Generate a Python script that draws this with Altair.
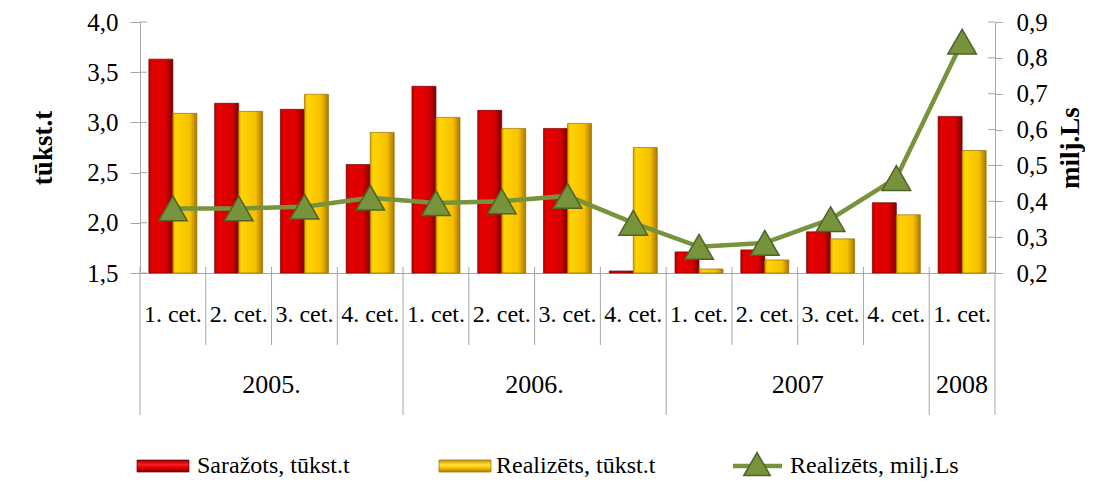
import altair as alt
import pandas as pd

# ---------------- data ----------------
YEARS = ["2005."] * 4 + ["2006."] * 4 + ["2007"] * 4 + ["2008"]
QUARTERS = ["1. cet.", "2. cet.", "3. cet.", "4. cet."] * 3 + ["1. cet."]
SARAZOTS = [3.63, 3.19, 3.13, 2.58, 3.36, 3.12, 2.94, 1.52, 1.71, 1.73, 1.91, 2.20, 3.06]
REALIZETS_T = [3.09, 3.11, 3.28, 2.90, 3.05, 2.94, 2.99, 2.75, 1.54, 1.63, 1.84, 2.08, 2.72]
REALIZETS_LS = [0.38, 0.38, 0.385, 0.41, 0.395, 0.40, 0.415, 0.34, 0.273, 0.284, 0.35, 0.465, 0.845]
SERIES = ["Saražots, tūkst.t", "Realizēts, tūkst.t", "Realizēts, milj.Ls"]
YEAR_LABELS = ["2005.", "2006.", "2007", "2008"]
LEFT_TICKS = [1.5, 2.0, 2.5, 3.0, 3.5, 4.0]
RIGHT_TICKS = [0.2, 0.3, 0.4, 0.5, 0.6, 0.7, 0.8, 0.9]
LEFT_TITLE = "tūkst.t"
RIGHT_TITLE = "milj.Ls"

CATS = [f"{i:02d} {y} {q}" for i, (y, q) in enumerate(zip(YEARS, QUARTERS))]

W, H = 855, 251
FONT = "'Times New Roman', 'Liberation Serif', serif"
GRAY = "#A6A6A6"

df = pd.DataFrame({"cat": CATS, "year": YEARS, "q": QUARTERS, "ls": REALIZETS_LS})
df_long = pd.DataFrame(
    {"cat": CATS * 2,
     "series": [SERIES[0]] * len(CATS) + [SERIES[1]] * len(CATS),
     "value": SARAZOTS + REALIZETS_T}
)
df_lt = pd.DataFrame({"value": LEFT_TICKS})
df_rt = pd.DataFrame({"ls": RIGHT_TICKS})

xscale = alt.Scale(domain=CATS, paddingInner=0, paddingOuter=0)
xaxis = alt.Axis(labels=False, ticks=False, title=None, domainColor=GRAY, grid=False)
X = alt.X("cat:N", scale=xscale, axis=xaxis)
X0 = alt.X("cat:N", scale=xscale, axis=xaxis, bandPosition=0)
X1 = alt.X("cat:N", scale=xscale, axis=xaxis, bandPosition=1)

fmt = "replace(format(datum.value, '.1f'), '.', ',')"


def hgrad(stops):
    return alt.Gradient(gradient="linear", x1=0, x2=1, y1=0, y2=0,
                        stops=[alt.GradientStop(color=c, offset=o) for o, c in stops])


def vgrad(stops):
    return alt.Gradient(gradient="linear", x1=0, x2=0, y1=0, y2=1,
                        stops=[alt.GradientStop(color=c, offset=o) for o, c in stops])


RED_G = hgrad([(0, "#B00000"), (0.12, "#E60000"), (0.7, "#DA0000"), (1, "#7E0000")])
YEL_G = hgrad([(0, "#D9A000"), (0.12, "#FFD400"), (0.7, "#F6C000"), (1, "#A87800")])

xoff = alt.XOffset("series:N", scale=alt.Scale(domain=SERIES[:2], paddingInner=0, paddingOuter=0.37))
left_axis = alt.Axis(values=LEFT_TICKS, labelExpr=fmt, title=LEFT_TITLE, orient="left",
                     grid=False, tickSize=10, tickColor=GRAY, domainColor=GRAY,
                     labelPadding=12, titleX=-97, titleY=H / 2, titleAngle=270,
                     titleBaseline="middle", titleAlign="center")
yL = alt.Y("value:Q", scale=alt.Scale(domain=[1.5, 4.0], zero=False), axis=left_axis)

base_bar = alt.Chart(df_long)
bar_red = base_bar.transform_filter(alt.datum.series == SERIES[0]).mark_bar(
    fill=RED_G, stroke="#6E0000", strokeWidth=0.7
).encode(x=X, xOffset=xoff, y=yL, y2=alt.datum(1.5))
bar_yel = base_bar.transform_filter(alt.datum.series == SERIES[1]).mark_bar(
    fill=YEL_G, stroke="#9A7000", strokeWidth=0.7
).encode(x=X, xOffset=xoff, y=yL, y2=alt.datum(1.5))
lt_in = alt.Chart(df_lt).mark_rule(color=GRAY, strokeWidth=1).encode(
    x=alt.value(0), x2=alt.value(7), y=yL)
bars = alt.layer(bar_red, bar_yel, lt_in)

right_axis = alt.Axis(values=RIGHT_TICKS, labelExpr=fmt, title=RIGHT_TITLE, orient="right",
                      grid=False, tickSize=7, tickColor=GRAY, domainColor=GRAY,
                      labelPadding=14, titleX=75, titleY=H / 2, titleAngle=270,
                      titleBaseline="middle", titleAlign="center")
yR = alt.Y("ls:Q", scale=alt.Scale(domain=[0.2, 0.9], zero=False), axis=right_axis)
rt_in = alt.Chart(df_rt).mark_rule(color=GRAY, strokeWidth=1).encode(
    x=alt.value(W - 7), x2=alt.value(W), y=yR)
line = alt.Chart(df).mark_line(color="#77933C", strokeWidth=4.5).encode(x=X, y=yR)
pts = alt.Chart(df).mark_point(shape="triangle-up", filled=True, size=820, fill="#77933C",
                               stroke="#4F6228", strokeWidth=1.5, opacity=1).encode(x=X, y=yR)
lines = alt.layer(rt_in, line, pts)

# ---------------- category axis (two levels) ----------------
q_lab = alt.Chart(df).mark_text(font=FONT, fontSize=24, color="#000", baseline="middle").encode(
    x=X, y=alt.value(H + 42), text="q:N")

year_bound = [0, 4, 8, 12]
q_bound = [i for i in range(len(CATS)) if i not in year_bound]
df_qb = pd.DataFrame({"cat": [CATS[i] for i in q_bound]})
df_yb = pd.DataFrame({"cat": [CATS[i] for i in year_bound]})
df_end = pd.DataFrame({"cat": [CATS[-1]]})

q_rules = alt.Chart(df_qb).mark_rule(color=GRAY, strokeWidth=1).encode(
    x=X0, y=alt.value(H - 6), y2=alt.value(H + 72))
y_rules = alt.Chart(df_yb).mark_rule(color=GRAY, strokeWidth=1).encode(
    x=X0, y=alt.value(H - 6), y2=alt.value(H + 142))
end_rule = alt.Chart(df_end).mark_rule(color=GRAY, strokeWidth=1).encode(
    x=X1, y=alt.value(H), y2=alt.value(H + 142))

df_y4 = pd.DataFrame({"cat": [CATS[1], CATS[5], CATS[9]], "year": YEAR_LABELS[:3]})
df_y1 = pd.DataFrame({"cat": [CATS[12]], "year": YEAR_LABELS[3:]})
y_lab4 = alt.Chart(df_y4).mark_text(font=FONT, fontSize=26, color="#000", baseline="middle").encode(
    x=X1, y=alt.value(H + 112), text="year:N")
y_lab1 = alt.Chart(df_y1).mark_text(font=FONT, fontSize=26, color="#000", baseline="middle").encode(
    x=X, y=alt.value(H + 112), text="year:N")

# ---------------- legend ----------------
one = pd.DataFrame({"k": [0]})
LY = 444
RED_V = vgrad([(0, "#900000"), (0.4, "#FF2020"), (0.6, "#E00000"), (1, "#800000")])
YEL_V = vgrad([(0, "#C09000"), (0.4, "#FFE040"), (0.6, "#FFCC00"), (1, "#B08000")])
sw1 = alt.Chart(one).mark_rect(fill=RED_V, stroke="#700000", strokeWidth=0.7).encode(
    x=alt.value(-3), x2=alt.value(49), y=alt.value(LY - 6), y2=alt.value(LY + 6))
sw2 = alt.Chart(one).mark_rect(fill=YEL_V, stroke="#9A7000", strokeWidth=0.7).encode(
    x=alt.value(299), x2=alt.value(351), y=alt.value(LY - 6), y2=alt.value(LY + 6))
sw3l = alt.Chart(one).mark_rule(color="#77933C", strokeWidth=4.5).encode(
    x=alt.value(593), x2=alt.value(642), y=alt.value(LY))
sw3p = alt.Chart(one).mark_point(shape="triangle-up", filled=True, size=700, fill="#77933C",
                                 stroke="#4F6228", strokeWidth=1.5, opacity=1).encode(
    x=alt.value(617), y=alt.value(LY - 2))
lt = dict(font=FONT, fontSize=24, color="#000", baseline="middle", align="left")
t1 = alt.Chart(one).mark_text(**lt).encode(x=alt.value(57), y=alt.value(LY), text=alt.value(SERIES[0]))
t2 = alt.Chart(one).mark_text(**lt).encode(x=alt.value(356), y=alt.value(LY), text=alt.value(SERIES[1]))
t3 = alt.Chart(one).mark_text(**lt).encode(x=alt.value(650), y=alt.value(LY), text=alt.value(SERIES[2]))

chart = alt.layer(
    bars, lines, q_rules, y_rules, end_rule, q_lab, y_lab4, y_lab1,
    sw1, sw2, sw3l, sw3p, t1, t2, t3
).resolve_scale(y="independent").properties(
    width=W, height=H,
    autosize=alt.AutoSizeParams(type="none"),
    padding={"left": 132, "top": 14, "right": 90, "bottom": 210},
).configure_view(stroke=None).configure_axis(
    labelFont=FONT, labelFontSize=25, labelColor="#000",
    titleFont=FONT, titleFontSize=27, titleFontWeight="bold", titleColor="#000"
)

chart.save("out.html", embed_options={"renderer": "svg", "actions": False})
